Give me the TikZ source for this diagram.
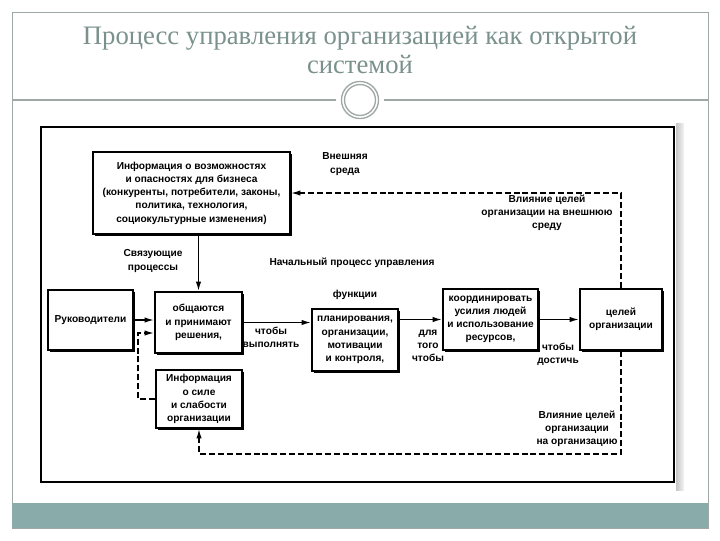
\documentclass[tikz,border=0pt]{standalone}
\usepackage{fontspec}
\setmainfont{Liberation Serif}
\newfontfamily\shemafont{Liberation Sans}
\usetikzlibrary{positioning,arrows.meta,shadows}
\definecolor{titul}{RGB}{122,145,140}
\definecolor{polosa}{RGB}{137,171,170}
\definecolor{ramka}{RGB}{160,168,166}

\begin{document}
\begin{tikzpicture}[x=0.75pt,y=-0.75pt,
  blok/.style={draw,line width=1.4pt,fill=white,align=center,inner sep=1pt,
    font=\shemafont\bfseries\fontsize{7.6}{9.9}\selectfont,
    drop shadow={shadow xshift=1.5pt,shadow yshift=-1.5pt,fill=black,opacity=1}},
  metka/.style={align=center,inner sep=0pt,font=\shemafont\bfseries\fontsize{7.6}{9.9}\selectfont},
  strelka/.style={line width=1.1pt,-{Latex[length=7pt,width=4pt]}},
  punktir/.style={strelka,dash pattern=on 4.5pt off 2.2pt}]
  \useasboundingbox (0,0) rectangle (720,540);
  \fill[white] (0,0) rectangle (720,540);
  \draw[ramka,line width=0.6pt] (12,12) rectangle (708,528);
  \fill[polosa] (12,503) rectangle (708,528);
  \draw[ramka,line width=0.8pt] (12,100) -- (336,100);
  \draw[ramka,line width=0.8pt] (384,100) -- (708,100);
  \draw[ramka,line width=1pt] (360,100) circle[radius=13.9pt];
  \draw[ramka,line width=1pt] (360,100) circle[radius=11.6pt];
  \node[font=\fontsize{20}{21.75}\selectfont,text=titul,align=center] (zagolovok) at (360,50)
    {Процесс управления организацией как открытой\\системой};

  \shade[left color=gray!45,right color=gray!8] (676,123) rectangle (684,490);
  \draw[line width=1.5pt] (41,127) rectangle (674,482);

  \node[blok,minimum width=147.8pt,minimum height=61.5pt] (vozm) at (191.5,193)
    {Информация о возможностях\\и опасностях для бизнеса\\(конкуренты, потребители, законы,\\политика, технология,\\социокультурные изменения)};
  \node[blok,minimum width=63.8pt,minimum height=45pt] (ruk) at (90.5,320) {Руководители};
  \node[blok,minimum width=65.3pt,minimum height=45.8pt] (obsh) at (198.5,322.5)
    {общаются\\и принимают\\решения,};
  \node[blok,minimum width=64.5pt,minimum height=43.5pt] (sila) at (199,399)
    {Информация\\о силе\\и слабости\\организации};
  \node[blok,minimum width=64.5pt,minimum height=46.5pt] (plan) at (355,340)
    {планирования,\\организации,\\мотивации\\и контроля,};
  \node[blok,minimum width=71.3pt,minimum height=45.8pt] (koord) at (490.5,319.5)
    {координировать\\усилия людей\\и использование\\ресурсов,};
  \node[blok,minimum width=61.5pt,minimum height=45.8pt] (celi) at (621,319.5)
    {целей\\организации};

  \node[metka] (vneshn) at (345,164) {Внешняя\\среда};
  \node[metka] (svyaz) at (153,261) {Связующие\\процессы};
  \node[metka] (nachalo) at (352,263) {Начальный процесс управления};
  \node[metka] (funk) at (355,295) {функции};
  \node[metka] (vypoln) at (271,337) {чтобы\\выполнять};
  \node[metka] (dlya) at (428,346) {для\\того\\чтобы};
  \node[metka] (dostich) at (558,354) {чтобы\\достичь};
  \node[metka] (vlvnesh) at (547,213) {Влияние целей\\организации на внешнюю\\среду};
  \node[metka] (vlorg) at (577,429) {Влияние целей\\организации\\на организацию};

  \coordinate (lev) at (138,333);
  \coordinate (niz) at (400,454);
  \draw[strelka] (obsh.north |- vozm.south) -- (obsh.north);
  \draw[strelka] (ruk.east) -- (ruk.east -| obsh.west);
  \draw[punktir] (sila.west) -| (lev) -- (lev -| obsh.west);
  \draw[strelka] (obsh.east) -- (obsh.east -| plan.west);
  \draw[strelka] (koord.west -| plan.east) -- (koord.west);
  \draw[strelka] (koord.east) -- (celi.west);
  \draw[punktir] (celi.north) |- (vozm.east);
  \draw[punktir] (celi.south) |- (niz) -| (sila.south);
\end{tikzpicture}
\end{document}
